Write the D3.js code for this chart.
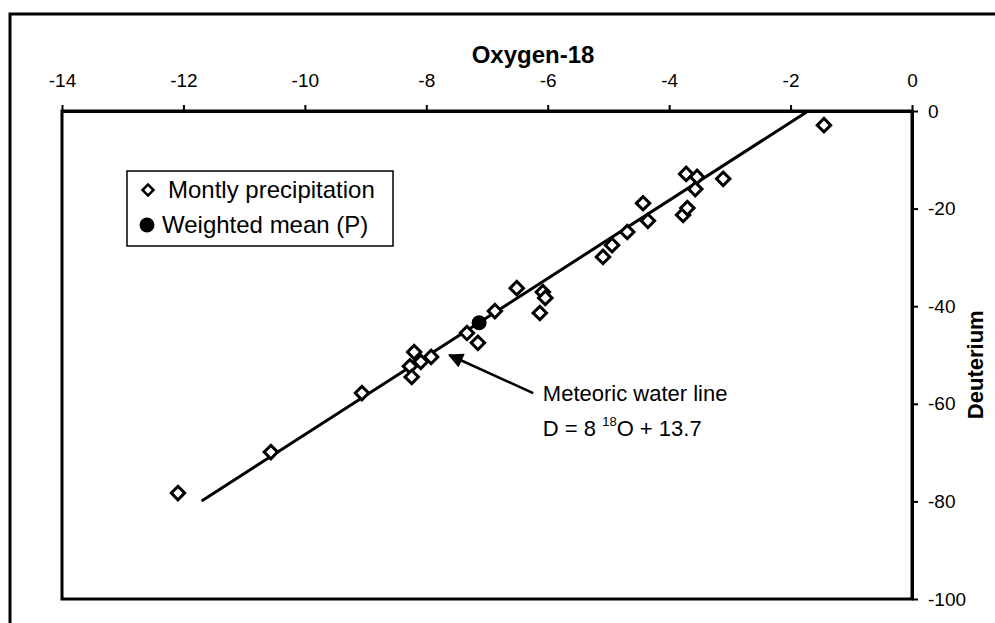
<!DOCTYPE html>
<html>
<head>
<meta charset="utf-8">
<script src="https://cdn.jsdelivr.net/npm/d3@7"></script>
<style>
  body { margin: 0; background: #fff; }
  svg { display: block; font-family: "Liberation Sans", Arial, sans-serif; }
</style>
</head>
<body>
<div id="chart"></div>
<script>
// monthly precipitation samples (delta 18O, delta D)
const o18 = [-12.09, -10.56, -9.06, -8.20, -7.92, -8.27, -8.09, -8.24,
             -7.33, -7.15, -6.87, -6.51, -6.08, -6.04, -6.13,
             -5.09, -4.94, -4.69, -4.43, -4.35, -3.77, -3.70,
             -3.72, -3.54, -3.57, -3.11, -1.45];
const deut = [-78.3, -69.9, -57.8, -49.4, -50.4, -52.3, -51.4, -54.5,
              -45.5, -47.5, -41.0, -36.3, -37.1, -38.3, -41.4,
              -29.9, -27.5, -24.8, -18.9, -22.5, -21.3, -19.9,
              -12.9, -13.5, -16.0, -13.9, -2.9];

// weighted mean
const meanO18 = [-7.13];
const meanD = [-43.4];

// meteoric water line end points
const mwlO18 = [-11.7, -1.71];
const mwlD = [-79.9, 0];

const xTicks = [-14, -12, -10, -8, -6, -4, -2, 0];
const yTicks = [0, -20, -40, -60, -80, -100];

const width = 995, height = 623;
const margin = { top: 111, right: 83, bottom: 24, left: 62 };

const svg = d3.select("#chart").append("svg")
  .attr("width", width)
  .attr("height", height);

// outer frame of the figure
svg.append("rect")
  .attr("x", 10).attr("y", 14)
  .attr("width", 1000).attr("height", 700)
  .attr("fill", "none").attr("stroke", "#000").attr("stroke-width", 3);

const x = d3.scaleLinear().domain([-14, 0]).range([margin.left, width - margin.right]);
const y = d3.scaleLinear().domain([-100, 0]).range([height - margin.bottom, margin.top]);

// plot box
svg.append("rect")
  .attr("x", x(-14)).attr("y", y(0))
  .attr("width", x(0) - x(-14)).attr("height", y(-100) - y(0))
  .attr("fill", "none").attr("stroke", "#000").attr("stroke-width", 3);

// top axis
const xAxis = svg.append("g")
  .attr("transform", `translate(0,${y(0)})`)
  .call(d3.axisTop(x).tickValues(xTicks).tickSize(6).tickSizeOuter(0).tickPadding(18)
    .tickFormat(d => String(d)));
xAxis.select(".domain").attr("stroke-width", 3);
xAxis.selectAll(".tick line").attr("stroke-width", 2);
xAxis.selectAll("text").attr("font-size", 19).attr("fill", "#000")
  .attr("font-family", "Liberation Sans, Arial, sans-serif");

// right axis
const yAxis = svg.append("g")
  .attr("transform", `translate(${x(0)},0)`)
  .call(d3.axisRight(y).tickValues(yTicks).tickSize(6).tickSizeOuter(0).tickPadding(10)
    .tickFormat(d => String(d)));
yAxis.select(".domain").attr("stroke-width", 3);
yAxis.selectAll(".tick line").attr("stroke-width", 2);
yAxis.selectAll("text").attr("font-size", 19).attr("fill", "#000")
  .attr("font-family", "Liberation Sans, Arial, sans-serif");

// axis titles
svg.append("text")
  .attr("x", 533).attr("y", 63)
  .attr("text-anchor", "middle")
  .attr("font-weight", "bold").attr("font-size", 24)
  .text("Oxygen-18");

svg.append("text")
  .attr("transform", `translate(983,${y(-52)}) rotate(-90)`)
  .attr("text-anchor", "middle")
  .attr("font-weight", "bold").attr("font-size", 22)
  .text("Deuterium");

// meteoric water line
svg.append("line")
  .attr("x1", x(mwlO18[0])).attr("y1", y(mwlD[0]))
  .attr("x2", x(mwlO18[1])).attr("y2", y(mwlD[1]))
  .attr("stroke", "#000").attr("stroke-width", 3);

// diamonds
const diamond = d3.symbol().type(d3.symbolSquare).size(90);
svg.selectAll("path.pt")
  .data(o18.map((v, i) => [v, deut[i]]))
  .enter().append("path")
  .attr("class", "pt")
  .attr("d", diamond)
  .attr("transform", d => `translate(${x(d[0])},${y(d[1])}) rotate(45)`)
  .attr("fill", "#fff").attr("stroke", "#000").attr("stroke-width", 3);

// weighted mean
svg.selectAll("circle.mean")
  .data(meanO18.map((v, i) => [v, meanD[i]]))
  .enter().append("circle")
  .attr("class", "mean")
  .attr("cx", d => x(d[0])).attr("cy", d => y(d[1]))
  .attr("r", 7.5).attr("fill", "#000");

// arrow annotation
svg.append("defs").append("marker")
  .attr("id", "arrow")
  .attr("viewBox", "0 0 10 10")
  .attr("refX", 9).attr("refY", 5)
  .attr("markerWidth", 7).attr("markerHeight", 6)
  .attr("markerUnits", "strokeWidth")
  .attr("orient", "auto")
  .append("path").attr("d", "M0,0 L10,5 L0,10 Z").attr("fill", "#000");

svg.append("line")
  .attr("x1", x(-6.24)).attr("y1", y(-57.8))
  .attr("x2", x(-7.62)).attr("y2", y(-50.0))
  .attr("stroke", "#000").attr("stroke-width", 2.5)
  .attr("marker-end", "url(#arrow)");

svg.append("text")
  .attr("x", x(-6.08)).attr("y", y(-59.5))
  .attr("font-size", 22)
  .text("Meteoric water line");

const eq = svg.append("text")
  .attr("x", x(-6.08)).attr("y", y(-66.7))
  .attr("font-size", 22);
eq.append("tspan").text("D = 8 ");
eq.append("tspan").attr("font-size", 13).attr("dy", -10).text("18");
eq.append("tspan").attr("dy", 10).text("O + 13.7");

// legend
const legend = svg.append("g").attr("transform", "translate(127,171)");
legend.append("rect")
  .attr("width", 266).attr("height", 75)
  .attr("fill", "#fff").attr("stroke", "#000").attr("stroke-width", 1.5);
legend.append("path")
  .attr("d", d3.symbol().type(d3.symbolSquare).size(60))
  .attr("transform", "translate(21,19) rotate(45)")
  .attr("fill", "#fff").attr("stroke", "#000").attr("stroke-width", 2.5);
legend.append("text")
  .attr("x", 41).attr("y", 19).attr("dy", "0.35em")
  .attr("font-size", 24)
  .text("Montly precipitation");
legend.append("circle")
  .attr("cx", 20).attr("cy", 54).attr("r", 7.5).attr("fill", "#000");
legend.append("text")
  .attr("x", 35).attr("y", 54).attr("dy", "0.35em")
  .attr("font-size", 24)
  .text("Weighted mean (P)");
</script>
</body>
</html>
